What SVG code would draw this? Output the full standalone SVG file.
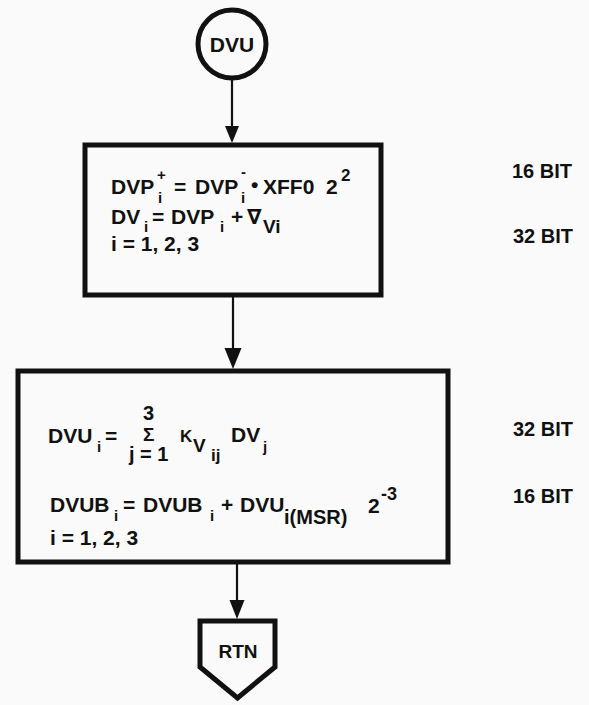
<svg xmlns="http://www.w3.org/2000/svg" width="589" height="705" viewBox="0 0 589 705">
<style>
text{font-family:"Liberation Sans",Arial,"DejaVu Sans",sans-serif;font-weight:bold;fill:#111}
.m{font-size:21px}
.s{font-size:15px}
.lab{font-size:20px}
.shape{fill:none;stroke:#111;stroke-width:5}
.conn{stroke:#111;stroke-width:2.2;fill:none}
.head{fill:#111}
</style>
<rect width="589" height="705" fill="#fafafa"/>
<g id="start">
<circle class="shape" cx="232" cy="44" r="34" stroke-width="4.5"/>
<text x="232" y="52" text-anchor="middle" style="font-size:21px">DVU</text>
</g>
<g id="connectors">
<line class="conn" x1="232" y1="79" x2="232" y2="128"/>
<polygon class="head" points="225,126 239,126 232,143"/>
<line class="conn" x1="233" y1="297" x2="233" y2="350"/>
<polygon class="head" points="224.5,348 241.5,348 233,369"/>
<line class="conn" x1="237" y1="564" x2="237" y2="602"/>
<polygon class="head" points="229.5,600 244.5,600 237,619"/>
</g>
<g id="box1">
<rect class="shape" x="85" y="145" width="296" height="150"/>
<text class="m" x="111" y="194">DVP</text>
<text class="s" x="157" y="180">+</text>
<text class="s" x="158" y="203">i</text>
<text class="m" x="174" y="194">=</text>
<text class="m" x="195" y="194">DVP</text>
<text class="s" x="241" y="177">-</text>
<text class="s" x="241" y="203">i</text>
<text class="m" x="251" y="192">•</text>
<text class="m" x="263" y="194">XFF0</text>
<text class="m" x="326" y="194">2</text>
<text x="341" y="181" style="font-size:17px">2</text>
<text class="m" x="111" y="224">DV</text>
<text class="s" x="144" y="232">i</text>
<text class="m" x="152" y="224">=</text>
<text class="m" x="171" y="224">DVP</text>
<text class="s" x="220" y="232">i</text>
<text class="m" x="231" y="224">+</text>
<text class="m" x="247" y="224">∇</text>
<text x="263" y="233" style="font-size:19px">Vi</text>
<text class="m" x="111" y="251">i = 1, 2, 3</text>
</g>
<g id="box2">
<rect class="shape" x="18" y="371" width="430" height="191"/>
<text class="m" x="48" y="443">DVU</text>
<text class="s" x="97" y="452">i</text>
<text class="m" x="105" y="443">=</text>
<text x="143" y="420" style="font-size:20px">3</text>
<text x="143" y="441" style="font-size:19px">Σ</text>
<text x="129" y="461" style="font-size:20px">j = 1</text>
<text x="180" y="442" style="font-size:17px">K</text>
<text x="193" y="452" style="font-size:19px">V</text>
<text x="211" y="461" style="font-size:17px">ij</text>
<text class="m" x="231" y="442">DV</text>
<text class="s" x="263" y="452">j</text>
<text class="m" x="50" y="512">DVUB</text>
<text class="s" x="114" y="521">i</text>
<text class="m" x="123" y="512">=</text>
<text class="m" x="143" y="512">DVUB</text>
<text class="s" x="210" y="521">i</text>
<text class="m" x="221" y="512">+</text>
<text class="m" x="240" y="512">DVU</text>
<text x="284" y="524" style="font-size:20px">i(MSR)</text>
<text class="m" x="368" y="513">2</text>
<text x="381" y="500" style="font-size:18px">-3</text>
<text class="m" x="50" y="545">i = 1, 2, 3</text>
</g>
<g id="labels">
<text class="lab" x="512" y="178">16 BIT</text>
<text class="lab" x="513" y="243">32 BIT</text>
<text class="lab" x="513" y="436">32 BIT</text>
<text class="lab" x="513" y="503">16 BIT</text>
</g>
<g id="rtn">
<path class="shape" d="M200,621 H275 V667 L237.5,698 L200,667 Z"/>
<text x="238" y="658" text-anchor="middle" style="font-size:19px">RTN</text>
</g>
</svg>
